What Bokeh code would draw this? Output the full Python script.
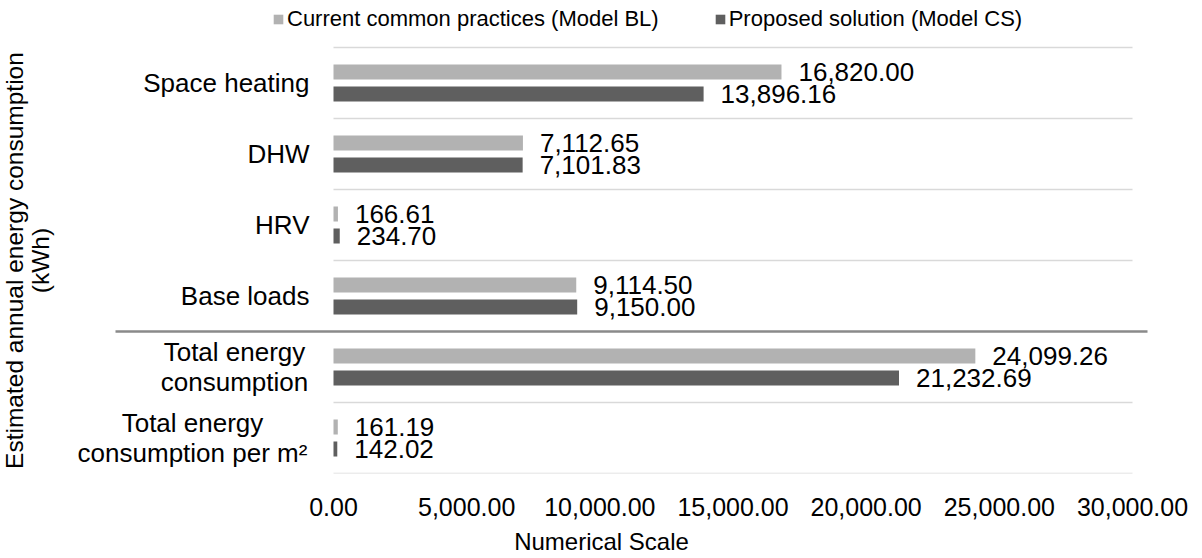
import math
from bokeh.plotting import figure
from bokeh.models import (Range1d, Legend, LegendItem, FixedTicker,
                          NumeralTickFormatter, ColumnDataSource)
from bokeh.core.properties import value
from bokeh.embed import file_html
from bokeh.resources import INLINE

# ---------------- data ----------------
categories = ["Space heating", "DHW", "HRV", "Base loads",
              "Total energy\nconsumption", "Total energy\nconsumption per m\u00b2"]
baseline = [16820.00, 7112.65, 166.61, 9114.50, 24099.26, 161.19]
proposed = [13896.16, 7101.83, 234.70, 9150.00, 21232.69, 142.02]
x_ticks = [0, 5000, 10000, 15000, 20000, 25000, 30000]
series_names = ["Current common practices (Model BL)", "Proposed solution (Model CS)"]
y_title = "Estimated annual energy consumption\n(kWh)"
x_title = "Numerical Scale"
separator_after = 4  # line between component rows and total rows

# ---------------- style / layout ----------------
FONT = "Liberation Sans"
FS_LABEL = "26px"
FS_TICK = "25px"
FS_TITLE = "24.5px"
FS_LEGEND = "22px"
LIGHT = "#b2b2b2"
DARK = "#5f5f5f"
W, H = 1202, 558
zero_px, max_px = 333, 1132          # screen x of 0 and 30,000
rows_top, frame_bottom = 47, 473     # screen y of first / last category border
sep_left, sep_right = 115, 1147

n = len(categories)
upp = (x_ticks[-1] - x_ticks[0]) / (max_px - zero_px)    # data units per px (x)
row_px = (frame_bottom - rows_top) / n                    # px per category row

def xd(px):
    return (px - zero_px) * upp

def yd(py):
    return (py - rows_top) / row_px

p = figure(frame_width=W, frame_height=frame_bottom,
           output_backend="svg", toolbar_location=None,
           x_range=Range1d(xd(0), xd(W)), y_range=Range1d(n, yd(0)),
           min_border_left=0, min_border_right=0, min_border_top=0,
           min_border_bottom=H - frame_bottom)
p.outline_line_color = None
p.xgrid.visible = False
p.ygrid.visible = False
p.yaxis.visible = False

idx = list(range(n))
centers = [i + 0.5 for i in idx]
bar_h = 0.21
off = 0.155

src = ColumnDataSource(dict(
    y_bl=[c - off for c in centers], y_cs=[c + off for c in centers],
    bl=baseline, cs=proposed,
    bl_txt=[f"{v:,.2f}" for v in baseline], cs_txt=[f"{v:,.2f}" for v in proposed],
))

# category borders (light) and the separator (dark)
grid_y = [k for k in range(n + 1) if k != separator_after]
p.segment(x0=[x_ticks[0]] * len(grid_y), x1=[x_ticks[-1]] * len(grid_y),
          y0=grid_y, y1=grid_y, line_color="#d9d9d9", line_width=1.5)
p.segment(x0=[xd(sep_left)], x1=[xd(sep_right)], y0=[separator_after],
          y1=[separator_after], line_color="#8a8a8a", line_width=2.5)

r_bl = p.hbar(y="y_bl", right="bl", left=0, height=bar_h, source=src,
              fill_color=LIGHT, line_color=None)
r_cs = p.hbar(y="y_cs", right="cs", left=0, height=bar_h, source=src,
              fill_color=DARK, line_color=None)

for xcol, ycol, tcol in (("bl", "y_bl", "bl_txt"), ("cs", "y_cs", "cs_txt")):
    p.text(x=xcol, y=ycol, text=tcol, source=src, x_offset=17,
           text_font=value(FONT), text_font_size=FS_LABEL, text_color="#000000",
           text_baseline="middle", text_align="left")

# category labels
single = [i for i in idx if "\n" not in categories[i]]
multi = [i for i in idx if "\n" in categories[i]]
p.text(x=[0] * len(single), y=[centers[i] for i in single],
       text=[categories[i] for i in single], x_offset=-24,
       text_font=value(FONT), text_font_size=FS_LABEL, text_color="#000000",
       text_baseline="middle", text_align="right")
multi_center_offsets = [-99, -141]
p.text(x=[0] * len(multi), y=[centers[i] for i in multi],
       text=[categories[i] for i in multi], x_offset=multi_center_offsets,
       text_font=value(FONT), text_font_size=FS_LABEL, text_color="#000000",
       text_baseline="middle", text_align="center", text_line_height=1.03)

# y axis title (rotated)
p.text(x=[xd(27)], y=[n / 2], text=[y_title], angle=math.pi / 2,
       text_font=value(FONT), text_font_size=FS_TITLE, text_color="#000000",
       text_baseline="middle", text_align="center", text_line_height=0.93)

# x axis
xa = p.xaxis[0]
xa.ticker = FixedTicker(ticks=x_ticks)
xa.formatter = NumeralTickFormatter(format="0,0.00")
xa.axis_line_color = None
xa.major_tick_line_color = None
xa.minor_tick_line_color = None
xa.major_label_text_font = FONT
xa.major_label_text_font_size = FS_TICK
xa.major_label_text_color = "#000000"
xa.major_label_standoff = 18
xa.axis_label = x_title
xa.axis_label_text_font = FONT
xa.axis_label_text_font_size = "24px"
xa.axis_label_text_font_style = "normal"
xa.axis_label_text_color = "#000000"
xa.axis_label_standoff = 9

legend = Legend(items=[LegendItem(label=series_names[0], renderers=[r_bl]),
                       LegendItem(label=series_names[1], renderers=[r_cs])],
                orientation="horizontal", location=(272, frame_bottom - 32),
                glyph_width=12, glyph_height=12, label_standoff=3, spacing=55,
                label_text_font=FONT, label_text_font_size=FS_LEGEND,
                label_text_color="#000000", border_line_color=None,
                background_fill_alpha=0, padding=0, margin=0)
p.add_layout(legend)

open("out.html", "w").write(file_html(p, INLINE))
